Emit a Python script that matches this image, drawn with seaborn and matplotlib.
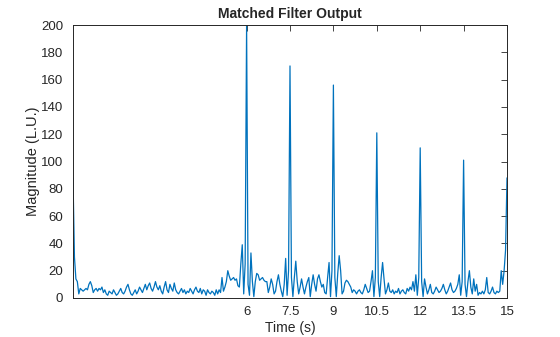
import numpy as np
import pandas as pd
import seaborn as sns
import matplotlib
matplotlib.use("Agg")
import matplotlib.pyplot as plt

# sample spacing of the read-off signal (s)
dt = 0.05
magnitude = [
    # 0 s
    88, 30, 14, 12, 3, 7, 6, 5, 6, 7, 6, 10, 12, 9, 4, 6, 7, 5, 7, 6,
    # 1 s
    8, 4, 6, 3, 2, 5, 4, 3, 6, 4, 2, 3, 5, 7, 4, 3, 5, 8, 10, 6,
    # 2 s
    3, 2, 4, 6, 3, 5, 8, 6, 4, 7, 10, 6, 9, 11, 7, 5, 8, 12, 8, 6,
    # 3 s
    9, 5, 3, 8, 12, 6, 4, 10, 7, 5, 11, 6, 4, 3, 5, 7, 4, 6, 3, 5,
    # 4 s
    4, 7, 5, 3, 6, 8, 5, 4, 7, 3, 6, 5, 2, 6, 4, 3, 5, 4, 2, 6,
    # 5 s
    3, 6, 4, 15, 5, 8, 12, 20, 16, 13, 14, 15, 13, 14, 9, 8, 25, 39, 3, 25,
    # 6 s
    200, 10, 2, 33, 12, 1, 12, 18, 17, 13, 14, 15, 13, 12, 12, 4, 8, 14, 10, 3,
    # 7 s
    5, 12, 17, 10, 5, 1, 10, 29, 2, 20, 170, 15, 1, 15, 27, 12, 3, 8, 14, 8,
    # 8 s
    3, 8, 12, 15, 1, 10, 17, 10, 5, 14, 17, 12, 8, 10, 4, 3, 15, 26, 1, 20,
    # 9 s
    156, 15, 1, 18, 31, 20, 3, 5, 11, 13, 12, 10, 8, 4, 6, 5, 3, 5, 6, 4,
    # 10 s
    3, 6, 10, 7, 4, 5, 12, 20, 1, 15, 121, 12, 1, 15, 26, 14, 3, 6, 11, 5,
    # 11 s
    4, 6, 3, 5, 4, 7, 3, 5, 6, 4, 3, 7, 5, 8, 6, 12, 5, 17, 2, 15,
    # 12 s
    110, 12, 1, 14, 8, 3, 6, 10, 4, 3, 5, 8, 6, 4, 5, 7, 10, 6, 3, 5,
    # 13 s
    8, 11, 6, 4, 5, 7, 10, 17, 2, 12, 101, 10, 1, 12, 20, 8, 3, 14, 5, 10,
    # 14 s
    2, 4, 3, 5, 3, 6, 15, 4, 3, 5, 8, 4, 3, 5, 4, 5, 20, 10, 20, 35,
    # 15 s
    88,
]
time_s = np.arange(len(magnitude)) * dt

x_ticks = [6, 7.5, 9, 10.5, 12, 13.5, 15]
x_tick_labels = ["6", "7.5", "9", "10.5", "12", "13.5", "15"]
y_ticks = list(range(0, 201, 20))

df = pd.DataFrame({"t": time_s, "mag": magnitude})

sns.set_style("white")
plt.rcParams["font.family"] = ["Liberation Sans", "DejaVu Sans"]

fig = plt.figure(figsize=(5.6, 3.37), dpi=100)
ax = fig.add_axes([73 / 560, 1 - 298 / 337, (507 - 73) / 560, (298 - 25) / 337])

sns.lineplot(data=df, x="t", y="mag", ax=ax, color="#0072BD", linewidth=0.9)

axc = "#262626"
ax.set_xlim(0, 15)
ax.set_ylim(0, 200)
ax.set_xticks(x_ticks)
ax.set_xticklabels(x_tick_labels)
ax.set_yticks(y_ticks)
ax.tick_params(axis="both", direction="in", length=4, width=0.6, colors=axc,
               labelsize=9.5, top=True, right=True)
ax.tick_params(axis="x", pad=6)
ax.tick_params(axis="y", pad=7)
for s in ax.spines.values():
    s.set_color(axc)
    s.set_linewidth(0.7)
    s.set_visible(True)

ax.set_xlabel("Time (s)", fontsize=10, color=axc, labelpad=2)
ax.set_ylabel("Magnitude (L.U.)", fontsize=10.5, color=axc, labelpad=1)
ax.set_title("Matched Filter Output", fontsize=10, fontweight="bold", color=axc, pad=5)

fig.savefig("out.png", dpi=100)
